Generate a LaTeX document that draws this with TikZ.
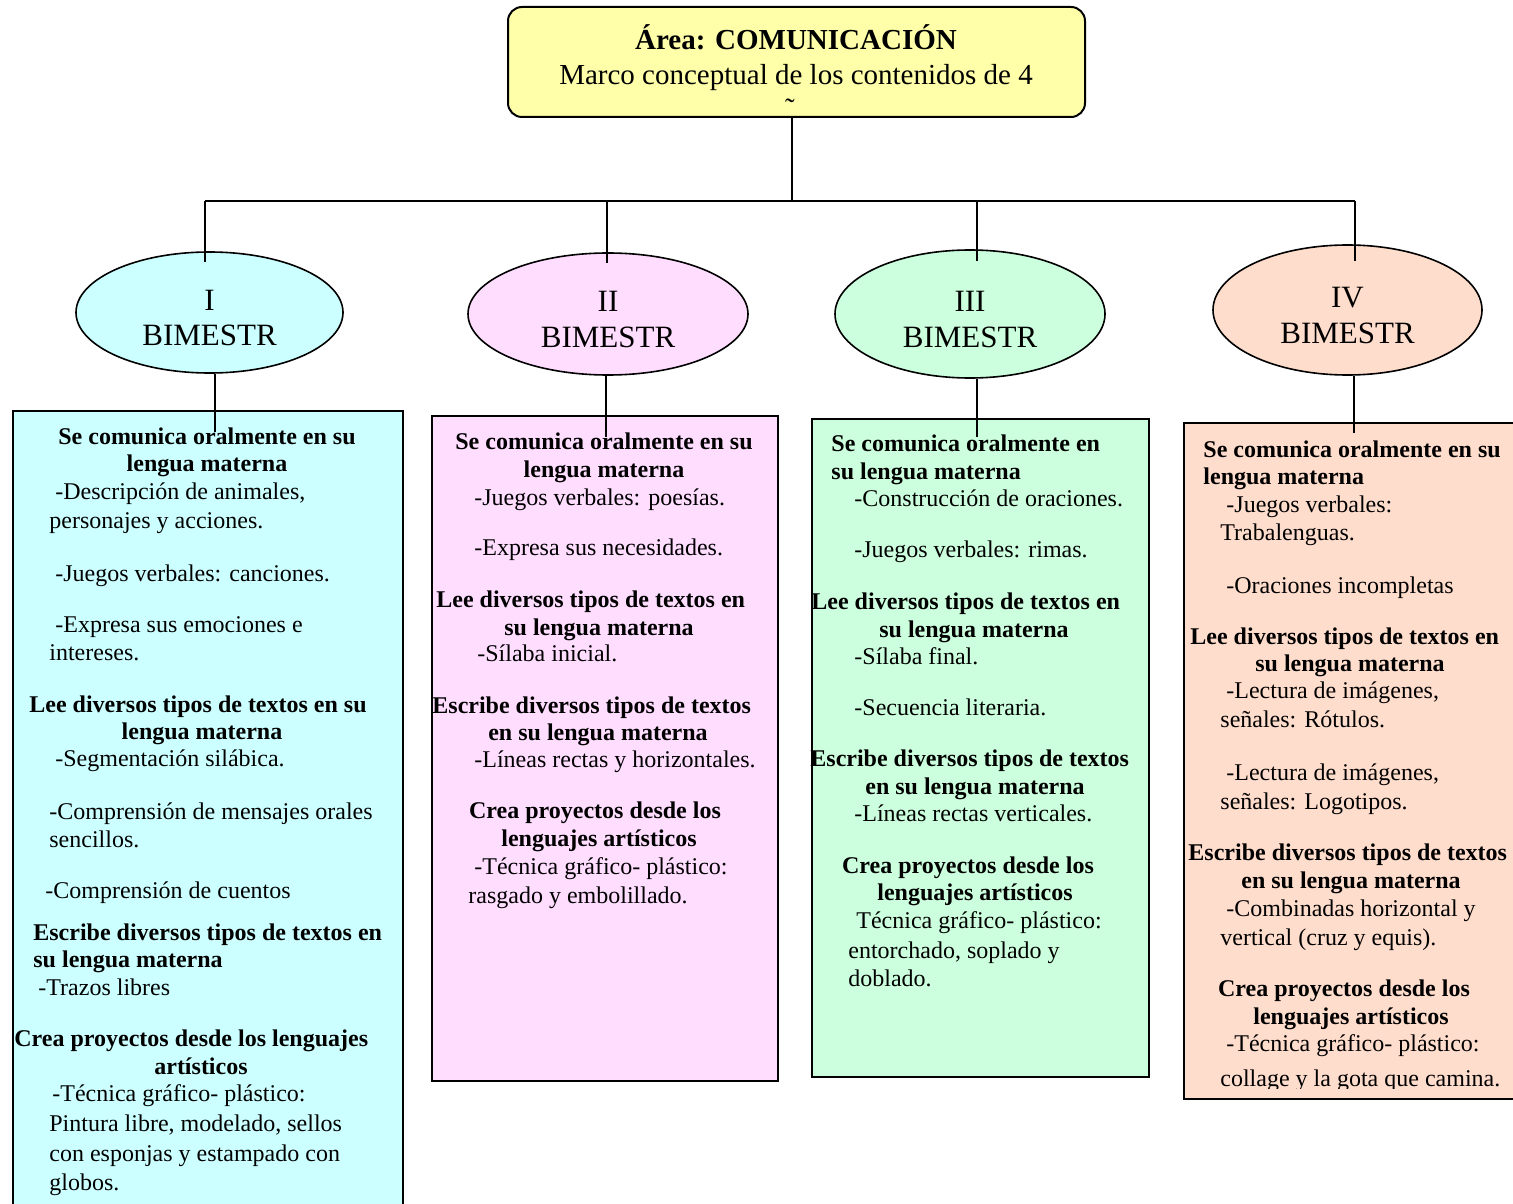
\documentclass[tikz,border=0pt]{standalone}
\usepackage{fontspec}
\setmainfont{Liberation Serif}
\usetikzlibrary{shapes.geometric}
\definecolor{areayellow}{HTML}{FFFFAA}
\definecolor{bimcyan}{HTML}{CCFFFF}
\definecolor{bimpink}{HTML}{FFDDFF}
\definecolor{bimgreen}{HTML}{CCFFDD}
\definecolor{bimpeach}{HTML}{FFDDCC}

\begin{document}
\begin{tikzpicture}[x=0.5pt,y=-0.5pt,
  link/.style={line width=1pt},
  areabox/.style={rectangle,rounded corners=7pt,draw,line width=1pt,fill=areayellow,
    minimum width=288.5pt,minimum height=55pt},
  bim/.style={ellipse,draw,line width=0.8pt,inner sep=0pt,align=center,text height=33.5pt,
    font=\fontsize{15.5}{17.8}\selectfont},
  cont/.style={rectangle,draw,line width=1pt,anchor=north west,inner sep=0pt},
  head/.style={font=\fontsize{12}{13.8}\selectfont\bfseries,inner sep=0pt,anchor=mid,yshift=-2pt},
  headl/.style={head,anchor=mid west},
  item/.style={font=\fontsize{12}{13.8}\selectfont,inner sep=0pt,anchor=mid west,yshift=-2pt}]
  \path[use as bounding box,fill=white] (0,0) rectangle (1513,1203);

  % title
  \node[areabox] (area) at (796.5,62) {};
  \node[anchor=base,inner sep=0pt,font=\fontsize{14.5}{17}\selectfont\bfseries] (tit1) at (796,50) {Área: COMUNICACIÓN};
  \node[anchor=base,inner sep=0pt,font=\fontsize{14.5}{17}\selectfont] (tit2) at (796,85) {Marco conceptual de los contenidos de 4};
  \node[anchor=base,inner sep=0pt,font=\fontsize{14.5}{17}\selectfont] (tit3) at (790,119) {\char"02DC};

  % bimestres
  \node[bim,fill=bimcyan,minimum width=133.5pt,minimum height=60.5pt] (bim1) at (209.5,312.5) {I\\BIMESTR};
  \node[bim,fill=bimpink,minimum width=140pt,minimum height=61pt] (bim2) at (608,314) {II\\BIMESTR};
  \node[bim,fill=bimgreen,minimum width=135pt,minimum height=64pt] (bim3) at (970,314) {III\\BIMESTR};
  \node[bim,fill=bimpeach,minimum width=134.5pt,minimum height=65pt] (bim4) at (1347.5,310) {IV\\BIMESTR};

  % contents
  \node[cont,fill=bimcyan,minimum width=195pt,minimum height=402.5pt] (cont1) at (12,410) {};
  \node[cont,fill=bimpink,minimum width=173pt,minimum height=332.5pt] (cont2) at (431,415) {};
  \node[cont,fill=bimgreen,minimum width=168.5pt,minimum height=329pt] (cont3) at (811,418) {};
  \node[cont,fill=bimpeach,minimum width=175pt,minimum height=338pt] (cont4) at (1183,422) {};

  % connectors
  \coordinate (bar) at (792,201);
  \coordinate (d1) at (205,262);
  \coordinate (d2) at (607,263);
  \coordinate (d3) at (977,261);
  \coordinate (d4) at (1355,261);
  \coordinate (u1) at (215,432);
  \coordinate (u2) at (606,437);
  \coordinate (u3) at (977,437);
  \coordinate (u4) at (1354,433);
  \draw[link] (bar |- area.south) -- (bar);
  \draw[link] (bar -| d1) -- (bar -| d4);
  \foreach \i in {1,...,4}{
    \draw[link] (bar -| d\i) -- (d\i);
    \draw[link] (u\i |- bim\i.south) -- (u\i);
  }

  % I bimestre
  \foreach \x/\y/\t [count=\k] in {207/436/{Se comunica oralmente en su}, 207/463/{lengua materna},
      198/704/{Lee diversos tipos de textos en su}, 202/731/{lengua materna}, 201/1066/{artísticos}}
    \node[head] (h1-\k) at (\x,\y) {\t};
  \foreach \x/\y/\t [count=\k] in {33/932/{Escribe diversos tipos de textos en}, 33/959/{su lengua materna},
      14/1038/{Crea proyectos desde los lenguajes}}
    \node[headl] (l1-\k) at (\x,\y) {\t};
  \foreach \x/\y/\t [count=\k] in {55/491/{-Descripción de animales,}, 49/520/{personajes y acciones.},
      55/573/{-Juegos verbales: canciones.}, 55/624/{-Expresa sus emociones e}, 49/652/{intereses.},
      55/758/{-Segmentación silábica.}, 49/811/{-Comprensión de mensajes orales}, 49/839/{sencillos.},
      45/890/{-Comprensión de cuentos}, 38/987/{-Trazos libres}, 52/1093/{-Técnica gráfico- plástico:},
      49/1123/{Pintura libre, modelado, sellos}, 49/1153/{con esponjas y estampado con}, 49/1182/{globos.}}
    \node[item] (i1-\k) at (\x,\y) {\t};

  % II bimestre
  \foreach \x/\y/\t [count=\k] in {604/441/{Se comunica oralmente en su}, 604/469/{lengua materna},
      599/627/{su lengua materna}, 598/732/{en su lengua materna},
      595/810/{Crea proyectos desde los}, 599/838/{lenguajes artísticos}}
    \node[head] (h2-\k) at (\x,\y) {\t};
  \foreach \x/\y/\t [count=\k] in {436/599/{Lee diversos tipos de textos en}, 432/705/{Escribe diversos tipos de textos}}
    \node[headl] (l2-\k) at (\x,\y) {\t};
  \foreach \x/\y/\t [count=\k] in {474/497/{-Juegos verbales: poesías.}, 474/547/{-Expresa sus necesidades.},
      477/653/{-Sílaba inicial.}, 474/759/{-Líneas rectas y horizontales.},
      474/866/{-Técnica gráfico- plástico:}, 468/895/{rasgado y embolillado.}}
    \node[item] (i2-\k) at (\x,\y) {\t};

  % III bimestre
  \foreach \x/\y/\t [count=\k] in {974/629/{su lengua materna}, 975/786/{en su lengua materna},
      968/865/{Crea proyectos desde los}, 975/892/{lenguajes artísticos}}
    \node[head] (h3-\k) at (\x,\y) {\t};
  \foreach \x/\y/\t [count=\k] in {831/443/{Se comunica oralmente en}, 831/471/{su lengua materna},
      811/601/{Lee diversos tipos de textos en}, 810/758/{Escribe diversos tipos de textos}}
    \node[headl] (l3-\k) at (\x,\y) {\t};
  \foreach \x/\y/\t [count=\k] in {854/498/{-Construcción de oraciones.}, 854/549/{-Juegos verbales: rimas.},
      854/656/{-Sílaba final.}, 854/707/{-Secuencia literaria.}, 854/813/{-Líneas rectas verticales.},
      856/920/{Técnica gráfico- plástico:}, 848/950/{entorchado, soplado y}, 848/978/{doblado.}}
    \node[item] (i3-\k) at (\x,\y) {\t};

  % IV bimestre
  \foreach \x/\y/\t [count=\k] in {1350/663/{su lengua materna}, 1351/880/{en su lengua materna},
      1344/988/{Crea proyectos desde los}, 1351/1016/{lenguajes artísticos}}
    \node[head] (h4-\k) at (\x,\y) {\t};
  \foreach \x/\y/\t [count=\k] in {1203/449/{Se comunica oralmente en su}, 1203/476/{lengua materna},
      1190/636/{Lee diversos tipos de textos en}, 1188/852/{Escribe diversos tipos de textos}}
    \node[headl] (l4-\k) at (\x,\y) {\t};
  \foreach \x/\y/\t [count=\k] in {1226/504/{-Juegos verbales:}, 1220/532/{Trabalenguas.},
      1226/585/{-Oraciones incompletas}, 1226/690/{-Lectura de imágenes,}, 1220/719/{señales: Rótulos.},
      1226/772/{-Lectura de imágenes,}, 1220/801/{señales: Logotipos.},
      1226/908/{-Combinadas horizontal y}, 1220/937/{vertical (cruz y equis).},
      1226/1043/{-Técnica gráfico- plástico:}}
    \node[item] (i4-\k) at (\x,\y) {\t};
  \begin{scope}
    \clip (1183,422) rectangle (1513,1088);
    \node[item] (i4-last) at (1220,1078) {collage y la gota que camina.};
  \end{scope}
\end{tikzpicture}
\end{document}
